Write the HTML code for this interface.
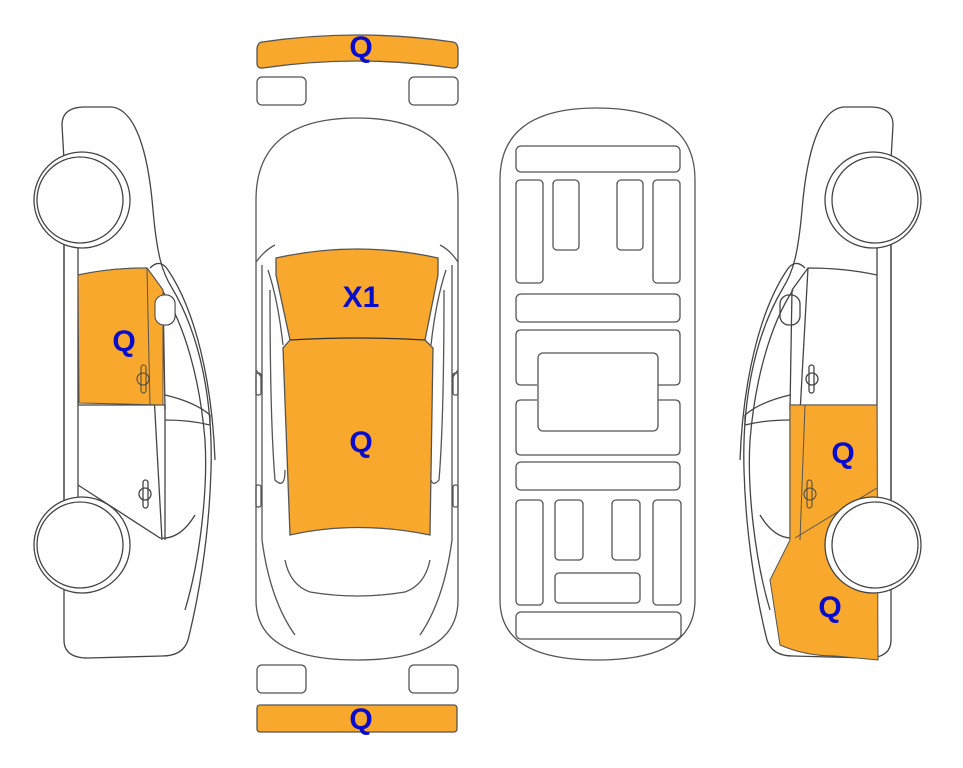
<!DOCTYPE html>
<html><head><meta charset="utf-8"><style>
html,body{margin:0;padding:0;background:#fff;width:963px;height:768px;overflow:hidden}
svg text{font-family:"Liberation Sans",Arial,sans-serif;font-weight:bold;fill:#0a0ccc;font-size:30px;text-anchor:middle}
</style></head><body>
<svg width="963" height="768" viewBox="0 0 963 768" xmlns="http://www.w3.org/2000/svg">
<defs>
<g id="side" fill="none" stroke="#444" stroke-width="1.3">
  <path d="M62,125 Q62,107 85,107 L112,107 C135,110 148,150 153,210 C157,255 162,272 172,288 C200,335 213,400 211,470 C209,540 198,600 188,640 Q183,656 162,656 L88,658 Q64,658 64,640 L64,570 M64,500 L64,245 M64,160 L62,125" fill="#fff"/>
  <line x1="64" y1="245" x2="64" y2="500"/>
  <line x1="78" y1="243" x2="78" y2="502"/>
  <line x1="62" y1="243" x2="95" y2="243"/>
  <line x1="62" y1="502" x2="95" y2="502"/>
  <path d="M78,275 Q110,268 147,268 L163,290"/>
  <line x1="147" y1="268" x2="162" y2="540"/>
  <line x1="163" y1="290" x2="165" y2="410"/>
  <path d="M162,290 C185,325 200,380 205,440 C208,490 200,560 185,610"/>
  <path d="M150,268 Q160,258 168,270 C195,310 212,380 215,460"/>
  <path d="M78,405 L165,405 L165,540"/>
  <path d="M165,395 Q195,402 210,415 L210,425 Q190,420 165,420"/>
  <path d="M78,485 L160,538 Q180,540 195,515"/>
  <rect x="155" y="295" width="20" height="30" rx="9"/>
  <rect x="141" y="365" width="5" height="28" rx="2.5"/>
  <ellipse cx="143" cy="379" rx="6" ry="6"/>
  <rect x="143" y="480" width="5" height="28" rx="2.5"/>
  <ellipse cx="145" cy="494" rx="6" ry="6"/>
</g>
<g id="wheels" fill="#fff" stroke="#444" stroke-width="1.3">
  <circle cx="82" cy="200" r="48"/><circle cx="80" cy="200" r="43"/>
  <circle cx="82" cy="545" r="48"/><circle cx="80" cy="545" r="43"/>
</g>
</defs>

<use href="#side"/>
<path d="M78,275 Q110,268 147,268 L163,290 L163,405 L79,403 Z" fill="#f8a82d" stroke="#555" stroke-width="1"/>
<line x1="147" y1="268" x2="150" y2="405" stroke="#555" stroke-width="1"/>
<rect x="141" y="365" width="5" height="28" rx="2.5" fill="none" stroke="#444"/>
<ellipse cx="143" cy="379" rx="6" ry="6" fill="none" stroke="#444"/>
<rect x="155" y="295" width="20" height="30" rx="9" fill="#fff" stroke="#444"/>
<use href="#wheels"/>
<text x="124" y="351">Q</text>

<g transform="translate(955,0) scale(-1,1)">
  <use href="#side"/>
  <path d="M78,405 L165,405 L165,540 L185,580 L175,645 Q150,656 120,656 L77,660 Z" fill="#f8a82d" stroke="#555" stroke-width="1"/>
  <path d="M78,488 L160,538" fill="none" stroke="#555"/>
  <line x1="150" y1="405" x2="155" y2="540" stroke="#555"/>
  <rect x="143" y="480" width="5" height="28" rx="2.5" fill="none" stroke="#444"/>
  <ellipse cx="145" cy="494" rx="6" ry="6" fill="none" stroke="#444"/>
  <use href="#wheels"/>
</g>
<text x="843" y="463">Q</text>
<text x="830" y="617">Q</text>

<g fill="none" stroke="#555" stroke-width="1.3">
  <path d="M262,42 Q358,28 453,42 Q458,43 458,50 L458,63 Q458,69 452,68 Q358,54 263,68 Q257,69 257,63 L257,50 Q257,43 262,42 Z" fill="#f8a82d"/>
  <rect x="257" y="77" width="49" height="28" rx="5"/>
  <rect x="409" y="77" width="49" height="28" rx="5"/>
  <path d="M256,200 Q256,118 357,118 Q458,118 458,200 L458,600 Q458,660 357,660 Q256,660 256,600 Z" fill="#fff"/>
  <path d="M256,262 Q265,250 275,245 M458,262 Q450,250 440,245"/>
  <path d="M262,265 L262,540 Q270,600 295,635 M452,265 L452,540 Q444,600 420,635"/>
  <path d="M268,270 Q278,300 283,345 M446,270 Q436,300 431,345"/>
  <path d="M270,290 Q270,420 275,480 Q285,490 285,470 M444,290 Q444,420 439,480 Q430,490 430,470"/>
  <path d="M256,370 L262,378 M458,370 L452,378"/>
  <rect x="256" y="373" width="5" height="22" rx="2"/><rect x="453" y="373" width="5" height="22" rx="2"/>
  <rect x="256" y="485" width="5" height="22" rx="2"/><rect x="453" y="485" width="5" height="22" rx="2"/>
  <path d="M285,560 Q290,585 310,592 Q357,600 405,592 Q425,585 430,560"/>
  <path d="M276,258 Q357,240 438,258 L438,275 L425,340 L433,348 L430,535 Q357,520 290,535 L283,348 L290,340 L276,275 Z" fill="#f8a82d"/>
  <path d="M290,340 Q357,336 425,340" stroke="#333"/>
  <rect x="257" y="665" width="49" height="28" rx="5"/>
  <rect x="409" y="665" width="49" height="28" rx="5"/>
  <rect x="257" y="705" width="200" height="27" rx="3" fill="#f8a82d"/>
</g>
<text x="361" y="57">Q</text>
<text x="361" y="307">X1</text>
<text x="361" y="452">Q</text>
<text x="361" y="729">Q</text>

<g fill="none" stroke="#555" stroke-width="1.3">
  <path d="M500,180 Q500,108 597,108 Q695,108 695,180 L695,600 Q695,660 597,660 Q500,660 500,600 Z"/>
  <rect x="516" y="146" width="164" height="26" rx="5"/>
  <rect x="516" y="180" width="27" height="103" rx="4"/>
  <rect x="553" y="180" width="26" height="70" rx="4"/>
  <rect x="617" y="180" width="26" height="70" rx="4"/>
  <rect x="653" y="180" width="27" height="103" rx="4"/>
  <rect x="516" y="294" width="164" height="28" rx="5"/>
  <path d="M537,385 L521,385 Q516,385 516,380 L516,335 Q516,330 521,330 L675,330 Q680,330 680,335 L680,380 Q680,385 675,385 L658,385"/>
  <path d="M537,400 L521,400 Q516,400 516,405 L516,450 Q516,455 521,455 L675,455 Q680,455 680,450 L680,405 Q680,400 675,400 L658,400"/>
  <rect x="538" y="353" width="120" height="78" rx="5"/>
  <rect x="516" y="462" width="164" height="28" rx="5"/>
  <rect x="516" y="500" width="27" height="105" rx="4"/>
  <rect x="555" y="500" width="28" height="60" rx="4"/>
  <rect x="612" y="500" width="28" height="60" rx="4"/>
  <rect x="653" y="500" width="28" height="105" rx="4"/>
  <rect x="555" y="573" width="85" height="30" rx="4"/>
  <rect x="516" y="612" width="165" height="27" rx="5"/>
</g>
</svg>
</body></html>
